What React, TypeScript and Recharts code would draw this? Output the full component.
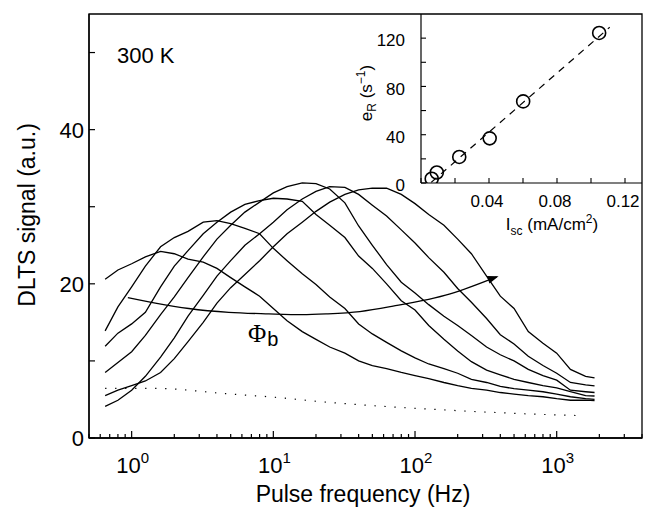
import React from "react";
import { ComposedChart, Line, Scatter, XAxis, YAxis, ReferenceArea } from "recharts";

// pulse frequency grid (Hz) shared by the six DLTS curves
const freq = [0.65, 0.8, 1, 1.25, 1.6, 2, 2.5, 3.2, 4, 5, 6.3, 8, 10, 12.5, 16, 20, 25, 32, 40, 50, 63, 80, 100, 125, 160, 200, 250, 320, 400, 500, 630, 800, 1000, 1250, 1600, 1850];

const curve1 = [20.6, 21.8, 22.6, 23.5, 24.2, 23.9, 23.2, 22.8, 22.0, 20.8, 19.6, 18.4, 16.8, 15.2, 13.8, 12.8, 11.8, 11.0, 10.0, 9.4, 9.0, 8.5, 8.1, 7.7, 7.2, 6.8, 6.45, 6.2, 5.9, 5.7, 5.5, 5.35, 5.1, 4.9, 4.9, 4.85];
const curve2 = [13.9, 17.0, 19.6, 22.3, 24.8, 26.0, 26.8, 28.0, 28.2, 27.8, 27.2, 26.5, 24.6, 23.0, 21.3, 19.9, 18.3, 16.8, 14.8, 13.5, 12.4, 11.3, 10.4, 9.6, 9.0, 8.4, 7.6, 7.2, 6.7, 6.4, 6.2, 6.0, 5.7, 5.35, 5.1, 5.0];
const curve3 = [11.9, 13.6, 14.8, 16.3, 19.6, 22.3, 24.3, 26.5, 28.0, 29.3, 30.3, 30.8, 31.1, 31.0, 30.7, 29.0, 27.6, 26.0, 23.6, 22.0, 20.0, 17.8, 16.6, 14.6, 12.8, 11.3, 9.9, 8.8, 8.2, 7.6, 7.2, 6.8, 6.5, 6.0, 5.5, 5.45];
const curve4 = [8.5, 9.8, 11.2, 13.3, 16.0, 18.3, 20.8, 23.5, 25.8, 27.6, 29.3, 30.6, 31.8, 32.6, 33.1, 33.0, 32.3, 30.5, 27.5, 25.0, 22.5, 20.2, 18.8, 17.3, 15.8, 14.6, 13.3, 11.8, 10.8, 10.0, 8.9, 8.1, 7.5, 6.2, 6.0, 5.9];
const curve5 = [4.1, 4.9, 6.2, 8.0, 10.5, 13.0, 15.8, 18.5, 21.0, 23.0, 25.0, 26.5, 28.0, 29.6, 31.0, 32.0, 32.6, 32.5, 31.6, 30.2, 28.8, 27.0, 25.3, 23.4, 21.5, 19.4, 17.6, 15.5, 13.4, 12.2, 10.6, 9.4, 8.4, 7.2, 6.9, 6.75];
const curve6 = [5.5, 6.2, 6.8, 7.4, 8.5, 10.3, 12.5, 15.0, 17.5, 19.5, 21.2, 23.0, 24.8, 26.5, 28.0, 29.4, 30.6, 31.6, 32.2, 32.4, 32.4, 31.6, 30.4, 29.0, 27.6, 25.8, 23.9, 21.0, 18.4, 16.8, 13.8, 12.3, 11.0, 8.9, 8.0, 7.8];

// dotted baseline
const baseFreq = [0.65, 1.4, 5, 10, 22, 50, 177, 500, 1450];
const baseSignal = [6.45, 6.45, 5.7, 5.3, 4.7, 4.2, 3.6, 3.2, 2.9];

// Phi_b arrow
const phiFreq = [0.94, 1.47, 2.53, 4.85, 9.3, 16, 23.7, 40.8, 70, 177, 377];
const phiSignal = [18.2, 17.5, 16.8, 16.3, 16.1, 16.0, 16.1, 16.4, 17.1, 18.7, 20.9];

// inset: emission rate vs short-circuit current
const isc = [0.0063, 0.0093, 0.0225, 0.0404, 0.0601, 0.1048];
const eR = [3.5, 8.7, 21.6, 37, 67.6, 124.3];
const fitIsc = [0.006, 0.111];
const fitER = [0.5, 129];

const decades = [1, 10, 100, 1000];
const xTicks = [0.5, 0.6, 0.7, 0.8, 0.9, ...decades.flatMap((d) => [1, 2, 3, 4, 5, 6, 7, 8, 9].map((k) => k * d)).filter((v) => v <= 4000)];
const yTicks = [0, 10, 20, 30, 40, 50];
const insetXTicks = [0, 0.02, 0.04, 0.06, 0.08, 0.1, 0.12];
const insetYTicks = [0, 20, 40, 60, 80, 100, 120];

const curves = [curve1, curve2, curve3, curve4, curve5, curve6].map((vals) =>
    freq.map((f, i) => ({ f, v: vals[i] }))
);
const baseData = baseFreq.map((f, i) => ({ f, v: baseSignal[i] }));
const phiData = phiFreq.map((f, i) => ({ f, v: phiSignal[i] }));
const insetData = isc.map((x, i) => ({ x, y: eR[i] }));
const fitData = fitIsc.map((x, i) => ({ x, y: fitER[i] }));

const FONT = "'Liberation Sans', Arial, Helvetica, sans-serif";

const MainXTick = (props: any) => {
    const { x, y, payload } = props;
    const v = payload.value;
    const major = decades.includes(v);
    return (
        <g>
            <line x1={x} x2={x} y1={y} y2={y - (major ? 7 : 4)} stroke="#000" strokeWidth={1.2} />
            {major && (
                <text x={x + 1} y={y + 35} textAnchor="middle" fontSize={22} fontFamily={FONT} fill="#000">
                    10
                    <tspan dy={-10} fontSize={15}>
                        {Math.round(Math.log10(v))}
                    </tspan>
                </text>
            )}
        </g>
    );
};

const MainYTick = (props: any) => {
    const { x, y, payload } = props;
    const v = payload.value;
    return (
        <g>
            <line x1={x} x2={x + 6} y1={y} y2={y} stroke="#000" strokeWidth={1.2} />
            {v % 20 === 0 && (
                <text x={x - 5} y={y} dy="0.36em" textAnchor="end" fontSize={22} fontFamily={FONT} fill="#000">
                    {v}
                </text>
            )}
        </g>
    );
};

const InsetXTick = (props: any) => {
    const { x, y, payload } = props;
    const v = payload.value;
    const show = [0.04, 0.08, 0.12].some((t) => Math.abs(t - v) < 1e-9);
    return (
        <g>
            <line x1={x} x2={x} y1={y} y2={y - 5} stroke="#000" strokeWidth={1.1} />
            {show && (
                <text x={x - 2} y={y + 24} textAnchor="middle" fontSize={17} fontFamily={FONT} fill="#000">
                    {v.toFixed(2)}
                </text>
            )}
        </g>
    );
};

const InsetYTick = (props: any) => {
    const { x, y, payload } = props;
    const v = payload.value;
    return (
        <g>
            <line x1={x} x2={x + 5} y1={y} y2={y} stroke="#000" strokeWidth={1.1} />
            {v % 40 === 0 && (
                <text x={x - 16} y={y + 2} dy="0.36em" textAnchor="end" fontSize={17} fontFamily={FONT} fill="#000">
                    {v}
                </text>
            )}
        </g>
    );
};

const ArrowHead = (props: any) => {
    const { cx, cy, index } = props;
    if (index !== phiFreq.length - 1) return <g key={`p${index}`} />;
    return (
        <polygon
            key="head"
            points="2,0 -9,-4 -9,4"
            transform={`translate(${cx},${cy}) rotate(-19)`}
            fill="#000"
        />
    );
};

const OpenCircle = (props: any) => (
    <circle cx={props.cx} cy={props.cy} r={6.5} fill="none" stroke="#000" strokeWidth={1.6} />
);

export default function App() {
    return (
        <div style={{ position: "relative", width: 652, height: 517 }}>
            <div style={{ position: "absolute", left: -8, top: -8 }}>
                <ComposedChart width={652} height={517} margin={{ top: 14, right: 10, bottom: 29, left: 29 }}>
                    <XAxis
                        type="number"
                        dataKey="f"
                        scale="log"
                        domain={[0.5, 4000]}
                        allowDataOverflow
                        ticks={xTicks}
                        interval={0}
                        tick={<MainXTick />}
                        tickLine={false}
                        tickSize={0}
                        tickMargin={0}
                        height={50}
                        axisLine={{ stroke: "#000", strokeWidth: 1.3 }}
                    />
                    <YAxis
                        type="number"
                        domain={[0, 55]}
                        allowDataOverflow
                        ticks={yTicks}
                        interval={0}
                        tick={<MainYTick />}
                        tickLine={false}
                        tickSize={0}
                        tickMargin={0}
                        width={60}
                        axisLine={{ stroke: "#000", strokeWidth: 1.3 }}
                    />
                    <ReferenceArea x1={0.5} x2={4000} y1={0} y2={55} fill="none" stroke="#000" strokeWidth={1.3} />
                    {curves.map((d, i) => (
                        <Line
                            key={i}
                            data={d}
                            dataKey="v"
                            type="linear"
                            stroke="#000"
                            strokeWidth={1.3}
                            dot={false}
                            isAnimationActive={false}
                        />
                    ))}
                    <Line
                        data={baseData}
                        dataKey="v"
                        type="monotone"
                        stroke="#000"
                        strokeWidth={1.2}
                        strokeDasharray="1.3 8.7"
                        dot={false}
                        isAnimationActive={false}
                    />
                    <Line
                        data={phiData}
                        dataKey="v"
                        type="monotone"
                        stroke="#000"
                        strokeWidth={1.3}
                        dot={ArrowHead}
                        isAnimationActive={false}
                    />
                    <text x={117} y={63} fontSize={22} fontFamily={FONT} fill="#000">
                        300 K
                    </text>
                    <text x={248} y={342} fontSize={25} fontFamily="'Liberation Serif', 'Times New Roman', serif" fill="#000">
                        Φ
                        <tspan dx={1} dy={4} fontSize={20} fontFamily={FONT}>
                            b
                        </tspan>
                    </text>
                    <text
                        x={35}
                        y={215}
                        transform="rotate(-90 35 215)"
                        textAnchor="middle"
                        fontSize={23}
                        fontFamily={FONT}
                        fill="#000"
                    >
                        DLTS signal (a.u.)
                    </text>
                    <text x={363} y={502} textAnchor="middle" fontSize={23} fontFamily={FONT} fill="#000">
                        Pulse frequency (Hz)
                    </text>
                </ComposedChart>
            </div>
            <div style={{ position: "absolute", left: -8, top: -8 }}>
                <ComposedChart width={652} height={250} margin={{ top: 14, right: 10, bottom: 27, left: 381 }}>
                    <XAxis
                        type="number"
                        dataKey="x"
                        domain={[0, 0.13]}
                        allowDataOverflow
                        ticks={insetXTicks}
                        interval={0}
                        tick={<InsetXTick />}
                        tickLine={false}
                        tickSize={0}
                        tickMargin={0}
                        height={40}
                        axisLine={{ stroke: "#000", strokeWidth: 1.2 }}
                    />
                    <YAxis
                        type="number"
                        dataKey="y"
                        domain={[0, 140]}
                        allowDataOverflow
                        ticks={insetYTicks}
                        interval={0}
                        tick={<InsetYTick />}
                        tickLine={false}
                        tickSize={0}
                        tickMargin={0}
                        width={40}
                        axisLine={{ stroke: "#000", strokeWidth: 1.2 }}
                    />
                    <Line
                        data={fitData}
                        dataKey="y"
                        type="linear"
                        stroke="#000"
                        strokeWidth={1.2}
                        strokeDasharray="7 6"
                        dot={false}
                        isAnimationActive={false}
                    />
                    <Scatter data={insetData} dataKey="y" shape={OpenCircle} isAnimationActive={false} />
                    <text
                        x={372}
                        y={93}
                        transform="rotate(-90 372 93)"
                        textAnchor="middle"
                        fontSize={17}
                        fontFamily={FONT}
                        fill="#000"
                    >
                        e
                        <tspan dy={4} fontSize={12}>R</tspan>
                        <tspan dy={-4}> (s</tspan>
                        <tspan dy={-7} fontSize={12}>−1</tspan>
                        <tspan dy={7}>)</tspan>
                    </text>
                    <text x={552} y={230} textAnchor="middle" fontSize={17} fontFamily={FONT} fill="#000">
                        I
                        <tspan dy={5} fontSize={12}>sc</tspan>
                        <tspan dy={-5}> (mA/cm</tspan>
                        <tspan dy={-7} fontSize={12}>2</tspan>
                        <tspan dy={7}>)</tspan>
                    </text>
                </ComposedChart>
            </div>
        </div>
    );
}
